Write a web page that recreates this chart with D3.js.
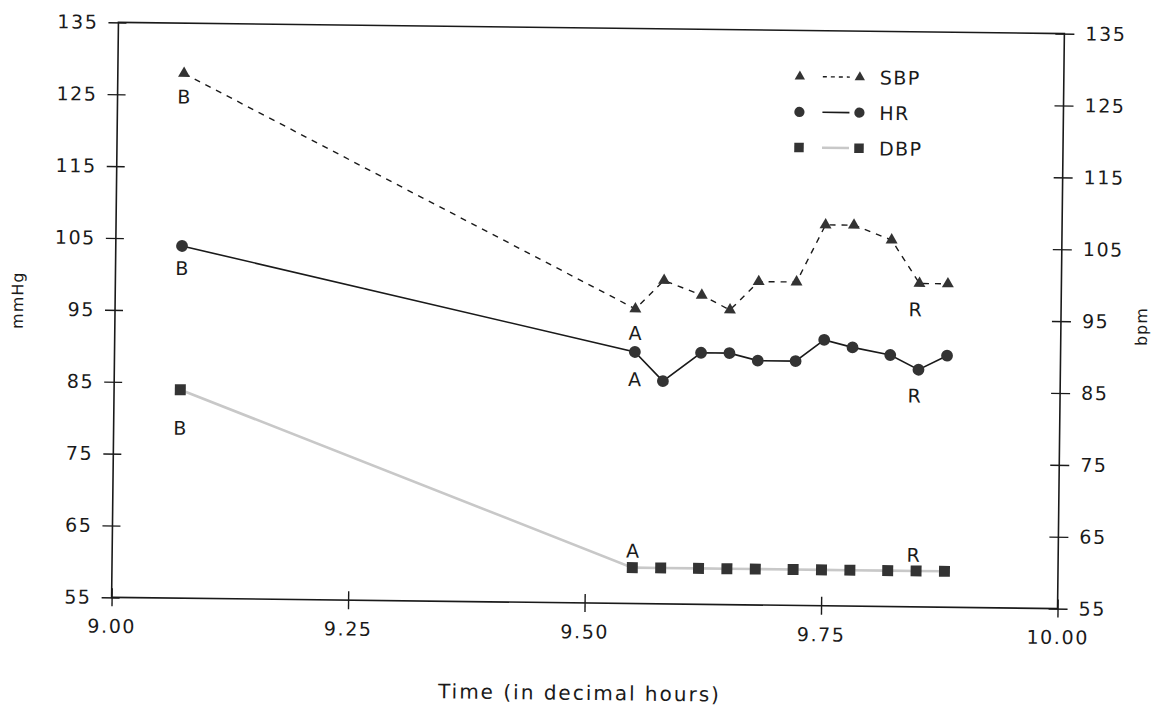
<!DOCTYPE html>
<html>
<head>
<meta charset="utf-8">
<script src="https://cdn.jsdelivr.net/npm/d3@7"></script>
<style>
  html, body { margin: 0; padding: 0; background: #fff; }
  svg { display: block; }
  text { font-family: "DejaVu Sans", sans-serif; fill: #1a1a1a; }
</style>
</head>
<body>
<svg id="chart" width="1161" height="715"></svg>
<script>
// Measurement times (decimal hours)
const times = [9.07, 9.55, 9.58, 9.62, 9.65, 9.68, 9.72, 9.75, 9.78, 9.82, 9.85, 9.88];
// Systolic blood pressure (mmHg)
const sbp = [128, 96, 100, 98, 96, 100, 100, 108, 108, 106, 100, 100];
// Heart rate (bpm)
const hr = [104, 90, 86, 90, 90, 89, 89, 92, 91, 90, 88, 90];
// Diastolic blood pressure (mmHg)
const dbp = [84, 60, 60, 60, 60, 60, 60, 60, 60, 60, 60, 60];

const xTicks = [9.00, 9.25, 9.50, 9.75, 10.00];
const yTicks = [55, 65, 75, 85, 95, 105, 115, 125, 135];

// Phase markers: B = baseline, A = first reading of the session, R = recovery
const phaseIndex = [0, 1, 10];
const phaseText = ["B", "A", "R"];

const plot = { left: 115, right: 1061, top: 28, bottom: 603 };

const svg = d3.select("#chart");
const g = svg.append("g").attr("transform", "rotate(0.68, 589, 315)");

const x = d3.scaleLinear().domain([9, 10]).range([plot.left, plot.right]);
const y = d3.scaleLinear().domain([55, 135]).range([plot.bottom, plot.top]);

const ink = "#1a1a1a";
const markFill = "#333";

// Frame
g.append("rect")
  .attr("x", plot.left).attr("y", plot.top)
  .attr("width", plot.right - plot.left).attr("height", plot.bottom - plot.top)
  .attr("fill", "none").attr("stroke", ink).attr("stroke-width", 1.6);

// Axes: ticks cross the frame line
function styleAxis(sel) {
  sel.select(".domain").remove();
  sel.selectAll(".tick line").attr("stroke", ink).attr("stroke-width", 1.4);
  sel.selectAll(".tick text").attr("font-size", 19).attr("letter-spacing", 1.6).attr("fill", ink);
}

const leftAxis = g.append("g").attr("transform", `translate(${plot.left},0)`)
  .call(d3.axisLeft(y).tickValues(yTicks).tickFormat(d3.format("d")).tickSize(10).tickPadding(10));
styleAxis(leftAxis);
leftAxis.selectAll(".tick line").attr("x1", 8);

const rightAxis = g.append("g").attr("transform", `translate(${plot.right},0)`)
  .call(d3.axisRight(y).tickValues(yTicks).tickFormat(d3.format("d")).tickSize(10).tickPadding(11));
styleAxis(rightAxis);
rightAxis.selectAll(".tick line").attr("x1", -9);

const bottomAxis = g.append("g").attr("transform", `translate(0,${plot.bottom})`)
  .call(d3.axisBottom(x).tickValues(xTicks).tickFormat(d3.format(".2f")).tickSize(9).tickPadding(13));
styleAxis(bottomAxis);
bottomAxis.selectAll(".tick line").attr("y1", -9);

// Axis titles
g.append("text")
  .attr("transform", `translate(23,307) rotate(-90)`)
  .attr("text-anchor", "middle").attr("font-size", 16).attr("letter-spacing", 1)
  .text("mmHg");
g.append("text")
  .attr("transform", `translate(1147,320) rotate(-90)`)
  .attr("text-anchor", "middle").attr("font-size", 16).attr("letter-spacing", 1)
  .text("bpm");
g.append("text")
  .attr("x", 584).attr("y", 700)
  .attr("text-anchor", "middle").attr("font-size", 20).attr("letter-spacing", 2)
  .text("Time (in decimal hours)");

// Series definitions
const series = [
  { name: "SBP", values: sbp, symbol: d3.symbolTriangle, size: 62, stroke: ink, width: 1.4, dash: "6,6" },
  { name: "HR",  values: hr,  symbol: d3.symbolCircle,   size: 110, stroke: ink, width: 1.6, dash: null },
  { name: "DBP", values: dbp, symbol: d3.symbolSquare,   size: 120, stroke: "#c8c8c8", width: 2.6, dash: null }
];

const line = d3.line().x(d => x(d[0])).y(d => y(d[1]));

series.forEach(s => {
  const pts = times.map((t, i) => [t, s.values[i]]);
  g.append("path")
    .attr("d", line(pts))
    .attr("fill", "none")
    .attr("stroke", s.stroke)
    .attr("stroke-width", s.width)
    .attr("stroke-dasharray", s.dash);
  g.append("g").selectAll("path")
    .data(pts).join("path")
    .attr("transform", d => `translate(${x(d[0])},${y(d[1])})`)
    .attr("d", d3.symbol().type(s.symbol).size(s.size))
    .attr("fill", markFill);
});

// Phase letters next to each series
const letterOffset = {
  SBP: { B: [0, 30], A: [0, 31], R: [-4, 33] },
  HR:  { B: [0, 29], A: [0, 34], R: [-4, 33] },
  DBP: { B: [0, 45], A: [0, -10], R: [-3, -9] }
};
series.forEach(s => {
  phaseIndex.forEach((idx, k) => {
    const txt = phaseText[k];
    const off = letterOffset[s.name][txt];
    g.append("text")
      .attr("x", x(times[idx]) + off[0])
      .attr("y", y(s.values[idx]) + off[1])
      .attr("text-anchor", "middle")
      .attr("font-size", 19)
      .text(txt);
  });
});

// Legend
const legend = g.append("g").attr("transform", "translate(797,74)");
series.forEach((s, i) => {
  const row = legend.append("g").attr("transform", `translate(0,${i * 35.5})`);
  row.append("line")
    .attr("x1", 23).attr("x2", 50).attr("y1", 0).attr("y2", 0)
    .attr("stroke", s.stroke).attr("stroke-width", s.width)
    .attr("stroke-dasharray", s.name === "SBP" ? "4,4" : null);
  [0, 60].forEach(px => {
    row.append("path")
      .attr("transform", `translate(${px},0)`)
      .attr("d", d3.symbol().type(s.symbol).size(s.size * 0.75))
      .attr("fill", markFill);
  });
  row.append("text")
    .attr("x", 80).attr("y", 7)
    .attr("font-size", 19).attr("letter-spacing", 1.4)
    .text(s.name);
});
</script>
</body>
</html>
